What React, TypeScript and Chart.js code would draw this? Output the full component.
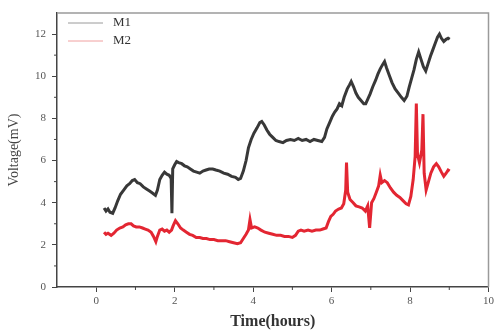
import React, { useEffect, useRef } from "react";
import { Chart, registerables } from "chart.js";

Chart.register(...registerables);

const seriesNames = ["M1", "M2"];

const m1Time = [0.2, 0.25, 0.3, 0.35, 0.42, 0.48, 0.55, 0.62, 0.7, 0.78, 0.85, 0.92, 0.98, 1.05, 1.12, 1.2, 1.28, 1.36, 1.44, 1.51, 1.56, 1.62, 1.68, 1.74, 1.8, 1.86, 1.91, 1.93, 1.95, 2.0, 2.05, 2.1, 2.18, 2.25, 2.32, 2.4, 2.48, 2.56, 2.64, 2.72, 2.8, 2.88, 2.97, 3.05, 3.15, 3.25, 3.35, 3.45, 3.55, 3.62, 3.68, 3.75, 3.82, 3.88, 3.95, 4.02, 4.1, 4.17, 4.22, 4.28, 4.35, 4.42, 4.5, 4.58, 4.66, 4.76, 4.85, 4.95, 5.05, 5.15, 5.25, 5.35, 5.45, 5.55, 5.65, 5.75, 5.82, 5.88, 5.95, 6.02, 6.08, 6.14, 6.2, 6.26, 6.32, 6.4, 6.46, 6.5, 6.56, 6.62, 6.68, 6.75, 6.82, 6.87, 6.92, 6.98, 7.05, 7.12, 7.18, 7.24, 7.3, 7.35, 7.4, 7.47, 7.54, 7.62, 7.7, 7.78, 7.85, 7.92, 7.98, 8.04, 8.1, 8.16, 8.22, 8.28, 8.34, 8.4, 8.46, 8.52, 8.58, 8.64, 8.7, 8.75, 8.8, 8.86, 8.92, 8.97, 9.01];
const m1Volt = [3.75, 3.6, 3.7, 3.55, 3.5, 3.75, 4.1, 4.4, 4.6, 4.8, 4.9, 5.05, 5.1, 4.95, 4.9, 4.75, 4.65, 4.55, 4.45, 4.35, 4.6, 5.1, 5.3, 5.45, 5.35, 5.3, 5.15, 3.5, 5.6, 5.8, 5.95, 5.9, 5.85, 5.75, 5.7, 5.6, 5.5, 5.45, 5.4, 5.5, 5.55, 5.6, 5.6, 5.55, 5.5, 5.4, 5.35, 5.25, 5.2, 5.1, 5.15, 5.5, 6.0, 6.6, 7.0, 7.3, 7.55, 7.8, 7.85, 7.7, 7.45, 7.25, 7.1, 6.95, 6.9, 6.85, 6.95, 7.0, 6.95, 7.05, 6.95, 7.0, 6.9, 7.0, 6.95, 6.9, 7.1, 7.5, 7.8, 8.1, 8.3, 8.45, 8.7, 8.6, 9.0, 9.4, 9.6, 9.75, 9.5, 9.2, 9.0, 8.85, 8.7, 8.7, 8.9, 9.15, 9.5, 9.8, 10.1, 10.35, 10.55, 10.7, 10.4, 10.05, 9.7, 9.4, 9.2, 9.0, 8.85, 9.05, 9.5, 9.9, 10.3, 10.8, 11.15, 10.8, 10.45, 10.25, 10.6, 10.95, 11.25, 11.55, 11.85, 12.0, 11.8, 11.65, 11.75, 11.8, 11.75];

const m2Time = [0.2, 0.25, 0.3, 0.38, 0.45, 0.52, 0.6, 0.68, 0.75, 0.82, 0.89, 0.95, 1.02, 1.1, 1.18, 1.25, 1.32, 1.4, 1.46, 1.52, 1.56, 1.62, 1.68, 1.74, 1.8, 1.86, 1.92, 1.96, 2.02, 2.08, 2.15, 2.22, 2.3, 2.38, 2.46, 2.55, 2.64, 2.72, 2.81, 2.9, 3.0, 3.1, 3.2, 3.3, 3.4, 3.5, 3.6, 3.68, 3.75, 3.82, 3.88, 3.92, 3.96, 4.04, 4.12, 4.2, 4.3, 4.4, 4.5, 4.6, 4.7, 4.8, 4.9, 5.0, 5.08, 5.15, 5.22, 5.3, 5.4, 5.5, 5.6, 5.7, 5.78, 5.86, 5.92, 5.98, 6.04, 6.1, 6.18, 6.25, 6.31, 6.36, 6.38, 6.41, 6.47, 6.55, 6.62, 6.7, 6.78, 6.86, 6.92, 6.97, 7.02, 7.08, 7.14, 7.2, 7.24, 7.28, 7.35, 7.42, 7.5, 7.58, 7.66, 7.74, 7.82, 7.9, 7.96, 8.02, 8.08, 8.13, 8.16, 8.19, 8.24, 8.3, 8.33, 8.36, 8.41, 8.47, 8.53, 8.6, 8.67, 8.73, 8.8, 8.86, 8.92, 8.97, 9.01];
const m2Volt = [2.6, 2.5, 2.55, 2.45, 2.55, 2.7, 2.8, 2.85, 2.95, 3.0, 3.0, 2.9, 2.85, 2.85, 2.8, 2.75, 2.7, 2.6, 2.4, 2.15, 2.4, 2.7, 2.75, 2.65, 2.7, 2.6, 2.7, 2.9, 3.15, 3.0, 2.8, 2.7, 2.6, 2.5, 2.45, 2.35, 2.35, 2.3, 2.3, 2.25, 2.25, 2.2, 2.2, 2.2, 2.15, 2.1, 2.05, 2.1, 2.3, 2.5, 2.7, 3.2, 2.8, 2.85, 2.8, 2.7, 2.6, 2.55, 2.5, 2.45, 2.45, 2.4, 2.4, 2.35, 2.45, 2.65, 2.7, 2.65, 2.7, 2.65, 2.7, 2.7, 2.75, 2.8, 3.1, 3.35, 3.45, 3.6, 3.7, 3.75, 3.95, 4.6, 5.9, 4.5, 4.15, 4.0, 3.85, 3.8, 3.75, 3.6, 3.85, 2.8, 4.0, 4.2, 4.5, 4.8, 5.3, 4.95, 5.05, 4.95, 4.7, 4.5, 4.35, 4.25, 4.1, 3.95, 3.9, 4.3, 5.1, 6.2, 8.7, 6.3, 5.9, 6.5, 8.2, 5.4, 4.6, 5.0, 5.4, 5.7, 5.85, 5.7, 5.45, 5.25, 5.4, 5.55, 5.5];

const xTicks = [0, 2, 4, 6, 8, 10];
const xMinorTicks = [1, 3, 5, 7, 9];
const yTicks = [0, 2, 4, 6, 8, 10, 12];
const yMinorTicks = [1, 3, 5, 7, 9, 11];

const SERIF = "'Liberation Serif', 'DejaVu Serif', serif";

const framePlugin = {
  id: "frame",
  afterDraw(chart: any) {
    const { ctx, chartArea, scales } = chart;
    ctx.save();
    ctx.strokeStyle = "#9a9a9a";
    ctx.lineWidth = 1.5;
    ctx.beginPath();
    ctx.moveTo(chartArea.left, chartArea.top);
    ctx.lineTo(chartArea.right, chartArea.top);
    ctx.lineTo(chartArea.right, chartArea.bottom);
    ctx.stroke();
    ctx.strokeStyle = "#444";
    ctx.lineWidth = 1;
    ctx.beginPath();
    xMinorTicks.forEach((v) => {
      const px = scales.x.getPixelForValue(v);
      ctx.moveTo(px, chartArea.bottom);
      ctx.lineTo(px, chartArea.bottom + 3);
    });
    yMinorTicks.forEach((v) => {
      const py = scales.y.getPixelForValue(v);
      ctx.moveTo(chartArea.left, py);
      ctx.lineTo(chartArea.left - 3, py);
    });
    ctx.stroke();
    const legendColors = ["#9a9a9a", "#f0a0a0"];
    chart.data.datasets.forEach((ds: any, i: number) => {
      const y = chartArea.top + 10 + i * 18;
      ctx.strokeStyle = legendColors[i];
      ctx.lineWidth = 1;
      ctx.beginPath();
      ctx.moveTo(chartArea.left + 11, y);
      ctx.lineTo(chartArea.left + 46, y);
      ctx.stroke();
      ctx.fillStyle = "#333";
      ctx.font = `13px ${SERIF}`;
      ctx.textBaseline = "middle";
      ctx.textAlign = "left";
      ctx.fillText(ds.label, chartArea.left + 56, y);
    });
    ctx.restore();
  },
};

export default function App() {
  const ref = useRef<HTMLCanvasElement | null>(null);
  useEffect(() => {
    if (!ref.current) return;
    const chart = new Chart(ref.current, {
      type: "line",
      data: {
        datasets: [
          {
            label: seriesNames[0],
            data: m1Time.map((t, i) => ({ x: t, y: m1Volt[i] })),
            borderColor: "#383838",
            borderWidth: 3,
            pointRadius: 0,
            tension: 0,
          },
          {
            label: seriesNames[1],
            data: m2Time.map((t, i) => ({ x: t, y: m2Volt[i] })),
            borderColor: "#e32632",
            borderWidth: 3,
            pointRadius: 0,
            tension: 0,
          },
        ],
      },
      options: {
        animation: false,
        responsive: false,
        maintainAspectRatio: false,
        layout: { padding: { top: 13, right: 7, left: 0, bottom: 0 } },
        plugins: { legend: { display: false }, tooltip: { enabled: false } },
        scales: {
          x: {
            type: "linear",
            min: -1,
            max: 10,
            afterBuildTicks: (scale: any) => {
              scale.ticks = xTicks.map((v) => ({ value: v }));
            },
            afterFit: (scale: any) => {
              scale.height = 44;
            },
            grid: { drawOnChartArea: false, tickLength: 5, tickColor: "#444", tickWidth: 1 },
            border: { display: true, color: "#444", width: 1.5 },
            ticks: {
              color: "#555",
              font: { family: SERIF, size: 11 },
              padding: 3,
              maxRotation: 0,
              autoSkip: false,
            },
            title: {
              display: true,
              text: "Time(hours)",
              color: "#333",
              font: { family: SERIF, size: 16, weight: "bold" },
              padding: { top: 0, bottom: 0 },
            },
          },
          y: {
            type: "linear",
            min: 0,
            max: 13,
            afterBuildTicks: (scale: any) => {
              scale.ticks = yTicks.map((v) => ({ value: v }));
            },
            afterFit: (scale: any) => {
              scale.width = 57;
            },
            grid: { drawOnChartArea: false, tickLength: 5, tickColor: "#444", tickWidth: 1 },
            border: { display: true, color: "#444", width: 1.5 },
            ticks: {
              color: "#555",
              font: { family: SERIF, size: 11 },
              padding: 6,
              autoSkip: false,
            },
            title: {
              display: true,
              text: "Voltage(mV)",
              color: "#444",
              font: { family: SERIF, size: 14 },
              padding: { top: 6, bottom: 0 },
            },
          },
        },
      },
      plugins: [framePlugin],
    } as any);
    return () => chart.destroy();
  }, []);
  return (
    <div style={{ position: "fixed", left: 0, top: 0, width: 497, height: 331, background: "#fff" }}>
      <canvas ref={ref} width={497} height={331} style={{ display: "block", width: 497, height: 331 }} />
    </div>
  );
}
